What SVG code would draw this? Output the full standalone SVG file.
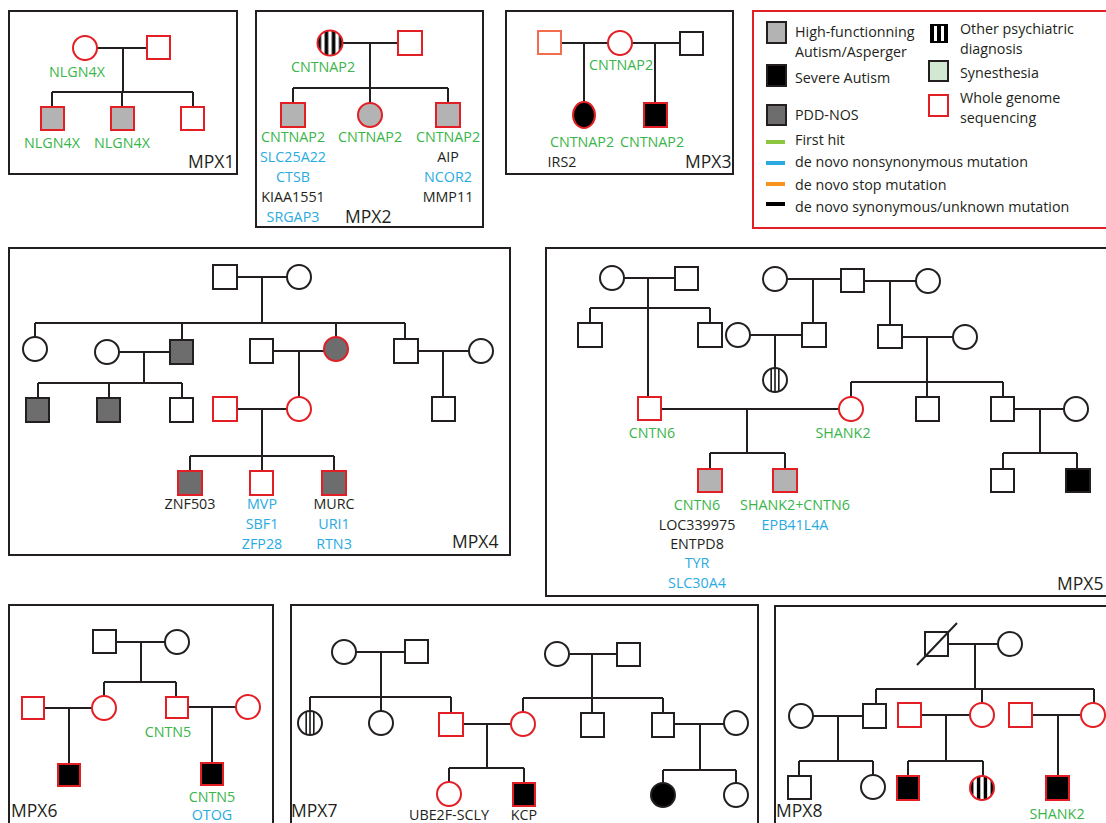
<svg xmlns="http://www.w3.org/2000/svg" width="1106" height="823" viewBox="0 0 1106 823">
<style>
text{font-family:"Open Sans","Liberation Sans",sans-serif;font-size:14.3px;text-anchor:middle}
.g{fill:#39b54a}.b{fill:#29abe2}.k{fill:#231f20}
.t{font-size:17.5px;text-anchor:start;fill:#231f20}
.lg{text-anchor:start;fill:#231f20}
.box{fill:none;stroke:#231f20;stroke-width:2}
.n{fill:#fff;stroke:#231f20;stroke-width:2}
.r{fill:#fff;stroke:#e31e24;stroke-width:2}
.hf{fill:#b3b3b3}.pdd{fill:#6d6d6d}.sev{fill:#000}
.thick{fill:url(#thick)}.thin{fill:url(#thin)}
.ln{fill:none;stroke:#231f20;stroke-width:2}
</style>
<defs>
<pattern id="thick" patternUnits="objectBoundingBox" patternContentUnits="objectBoundingBox" width="1" height="1">
<rect width="1" height="1" fill="#fff"/>
<rect x="0" width="0.143" height="1" fill="#000"/>
<rect x="0.286" width="0.143" height="1" fill="#000"/>
<rect x="0.571" width="0.143" height="1" fill="#000"/>
<rect x="0.857" width="0.143" height="1" fill="#000"/>
</pattern>
<pattern id="thin" patternUnits="objectBoundingBox" patternContentUnits="objectBoundingBox" width="1" height="1">
<rect width="1" height="1" fill="#fff"/>
<rect x="0.31" width="0.06" height="1" fill="#000"/>
<rect x="0.47" width="0.06" height="1" fill="#000"/>
<rect x="0.63" width="0.06" height="1" fill="#000"/>
</pattern>
</defs>

<g id="frames">
<rect class="box" x="9" y="11" width="228" height="163"/>
<rect class="box" x="256" y="11" width="227" height="216"/>
<rect class="box" x="506" y="11" width="227" height="163"/>
<rect x="753" y="11" width="360" height="217" fill="none" stroke="#e31e24" stroke-width="2"/>
<rect class="box" x="9" y="248" width="501" height="307"/>
<rect class="box" x="546" y="248" width="570" height="348"/>
<rect class="box" x="9" y="605" width="264" height="230"/>
<rect class="box" x="291" y="605" width="467" height="230"/>
<rect class="box" x="775" y="606" width="340" height="230"/>
<text class="t" x="188" y="168">MPX1</text>
<text class="t" x="345" y="223">MPX2</text>
<text class="t" x="685" y="168">MPX3</text>
<text class="t" x="452" y="548">MPX4</text>
<text class="t" x="1057" y="590">MPX5</text>
<text class="t" x="11" y="817">MPX6</text>
<text class="t" x="291" y="817">MPX7</text>
<text class="t" x="776" y="817">MPX8</text>
</g>

<g id="connectors">
<path class="ln" d="M97 48H147M123 48V92M52 92H193M52 92V107M122 92V107M193 92V107"/>
<path class="ln" d="M342 43H398M370 43V88M293 88H448M293 88V103M370 88V103M448 88V103"/>
<path class="ln" d="M561 43H608M632 43H680M584 43V102M655 43V103"/>
<path class="ln" d="M237 277H287M262 277V323M35 323H405M35 323V337M182 323V340M336 323V337M405 323V339M119 352H170M144 352V383M38 383H182M38 383V398M109 383V398M182 383V398M273 351H324M299 351V397M237 409H287M262 409V456M190 456H334M190 456V471M262 456V471M334 456V471M418 351H469M443 351V397"/>
<path class="ln" d="M624 278H675M648 278V397M590 308H710M590 308V323M710 308V323M787 279H841M813 279V323M750 335H802M775 335V368M864 281H916M890 281V325M902 337H953M927 337V382M851 382H1003M851 382V397M927 382V397M1003 382V397M661 409H839M747 409V453M710 453H785M710 453V469M785 453V469M1014 409H1064M1040 409V453M1003 453H1077M1003 453V469M1077 453V469"/>
<path class="ln" d="M116 642H165M141 642V682M104 682H176M104 682V696M176 682V697M44 708H92M69 708V764M188 707H236M212 707V763"/>
<path class="ln" d="M356 652H405M381 652V697M310 697H451M310 697V711M381 697V711M451 697V713M569 654H617M592 654V698M523 698H663M523 698V712M592 698V713M663 698V713M463 724H511M487 724V768M449 768H524M449 768V782M524 768V783M674 724H724M700 724V770M663 770H736M663 770V783M736 770V783"/>
<path class="ln" d="M948 644H998M975 644V689M876 689H1094M876 689V704M982 689V703M1094 689V703M813 716H863M838 716V761M799 761H873M799 761V776M873 761V775M921 715H970M946 715V761M908 761H983M908 761V776M983 761V776M1032 715H1081M1058 715V776"/>
</g>

<g id="legend">
<rect x="767" y="22" width="19" height="21" fill="#b3b3b3" stroke="#231f20" stroke-width="2"/>
<rect x="767" y="65" width="19" height="21" fill="#000" stroke="#231f20" stroke-width="2"/>
<rect x="767" y="105" width="19" height="20" fill="#6d6d6d" stroke="#231f20" stroke-width="2"/>
<path d="M766 142H785" stroke="#8dc63f" stroke-width="4"/>
<path d="M766 163H785" stroke="#29abe2" stroke-width="4"/>
<path d="M766 184H785" stroke="#f7941d" stroke-width="4"/>
<path d="M766 204H785" stroke="#000" stroke-width="4"/>
<text class="lg" x="795" y="37">High-functionning</text>
<text class="lg" x="795" y="57">Autism/Asperger</text>
<text class="lg" x="795" y="83">Severe Autism</text>
<text class="lg" x="795" y="120">PDD-NOS</text>
<text class="lg" x="795" y="145">First hit</text>
<text class="lg" x="795" y="167">de novo nonsynonymous mutation</text>
<text class="lg" x="795" y="190">de novo stop mutation</text>
<text class="lg" x="795" y="212">de novo synonymous/unknown mutation</text>
<rect x="930" y="24" width="18" height="19" fill="#000"/>
<rect x="934" y="26" width="3" height="15" fill="#fff"/>
<rect x="941" y="26" width="3" height="15" fill="#fff"/>
<rect x="929" y="61" width="19" height="20" fill="#d3e8d3" stroke="#231f20" stroke-width="2"/>
<rect x="929" y="95" width="19" height="21" fill="#fff" stroke="#e31e24" stroke-width="2"/>
<text class="lg" x="960" y="34">Other psychiatric</text>
<text class="lg" x="960" y="54">diagnosis</text>
<text class="lg" x="960" y="78">Synesthesia</text>
<text class="lg" x="960" y="103">Whole genome</text>
<text class="lg" x="960" y="123">sequencing</text>
</g>

<g id="mpx1-mother"><circle class="r" cx="85" cy="48" r="12"/><text class="g" x="77" y="77">NLGN4X</text></g>
<g id="mpx1-father"><rect class="r" x="147" y="36" width="23" height="23"/></g>
<g id="mpx1-child1"><rect class="r hf" x="41" y="107" width="23" height="23"/><text class="g" x="52" y="148">NLGN4X</text></g>
<g id="mpx1-child2"><rect class="r hf" x="111" y="107" width="23" height="23"/><text class="g" x="122" y="148">NLGN4X</text></g>
<g id="mpx1-child3"><rect class="r" x="181" y="107" width="23" height="23"/></g>

<g id="mpx2-mother"><circle class="r thick" cx="330" cy="43" r="12.5"/><text class="g" x="323" y="72">CNTNAP2</text></g>
<g id="mpx2-father"><rect class="r" x="398" y="31" width="24" height="24"/></g>
<g id="mpx2-child1"><rect class="r hf" x="281" y="103" width="24" height="24"/>
<text class="g" x="293" y="142">CNTNAP2</text><text class="b" x="293" y="162">SLC25A22</text><text class="b" x="293" y="182">CTSB</text><text class="k" x="293" y="202">KIAA1551</text><text class="b" x="293" y="222">SRGAP3</text></g>
<g id="mpx2-child2"><circle class="r hf" cx="370" cy="115" r="12"/><text class="g" x="370" y="142">CNTNAP2</text></g>
<g id="mpx2-child3"><rect class="r hf" x="436" y="103" width="24" height="24"/>
<text class="g" x="448" y="142">CNTNAP2</text><text class="k" x="448" y="162">AIP</text><text class="b" x="448" y="182">NCOR2</text><text class="k" x="448" y="202">MMP11</text></g>

<g id="mpx3-father"><rect x="538" y="31" width="23" height="23" fill="#fff" stroke="#f26c4f" stroke-width="2"/></g>
<g id="mpx3-mother"><circle class="r" cx="620" cy="43" r="12"/><text class="g" x="621" y="70">CNTNAP2</text></g>
<g id="mpx3-partner"><rect class="n" x="680" y="32" width="23" height="23"/></g>
<g id="mpx3-child1"><ellipse class="r sev" cx="584" cy="115" rx="11" ry="13"/><text class="g" x="582" y="147">CNTNAP2</text><text class="k" x="562" y="167">IRS2</text></g>
<g id="mpx3-child2"><rect class="r sev" x="644" y="103" width="23" height="24"/><text class="g" x="652" y="147">CNTNAP2</text></g>

<g id="mpx4-gf"><rect class="n" x="213" y="265" width="24" height="24"/></g>
<g id="mpx4-gm"><circle class="n" cx="299" cy="277" r="12"/></g>
<g id="mpx4-a1"><circle class="n" cx="35" cy="349" r="12"/></g>
<g id="mpx4-a2sp"><circle class="n" cx="107" cy="352" r="12"/></g>
<g id="mpx4-a2"><rect class="n pdd" x="170" y="340" width="23" height="24"/></g>
<g id="mpx4-a2c1"><rect class="n pdd" x="26" y="398" width="23" height="24"/></g>
<g id="mpx4-a2c2"><rect class="n pdd" x="97" y="398" width="23" height="24"/></g>
<g id="mpx4-a2c3"><rect class="n" x="170" y="398" width="23" height="24"/></g>
<g id="mpx4-a3sp"><rect class="n" x="250" y="339" width="23" height="24"/></g>
<g id="mpx4-a3"><circle class="r pdd" cx="336" cy="349" r="12"/></g>
<g id="mpx4-b1"><rect class="r" x="213" y="397" width="24" height="24"/></g>
<g id="mpx4-b2"><circle class="r" cx="299" cy="409" r="12"/></g>
<g id="mpx4-c1"><rect class="r pdd" x="178" y="471" width="24" height="24"/><text class="k" x="190" y="509">ZNF503</text></g>
<g id="mpx4-c2"><rect class="r" x="250" y="471" width="23" height="24"/><text class="b" x="262" y="509">MVP</text><text class="b" x="262" y="529">SBF1</text><text class="b" x="262" y="549">ZFP28</text></g>
<g id="mpx4-c3"><rect class="r pdd" x="322" y="471" width="24" height="24"/><text class="k" x="334" y="509">MURC</text><text class="b" x="334" y="529">URI1</text><text class="b" x="334" y="549">RTN3</text></g>
<g id="mpx4-a4"><rect class="n" x="394" y="339" width="24" height="24"/></g>
<g id="mpx4-a4sp"><circle class="n" cx="481" cy="351" r="12"/></g>
<g id="mpx4-a4c"><rect class="n" x="432" y="397" width="23" height="24"/></g>

<g id="mpx5-p1m"><circle class="n" cx="612" cy="278" r="12"/></g>
<g id="mpx5-p1f"><rect class="n" x="675" y="267" width="23" height="23"/></g>
<g id="mpx5-s1"><rect class="n" x="578" y="323" width="24" height="24"/></g>
<g id="mpx5-s2"><rect class="n" x="698" y="323" width="24" height="24"/></g>
<g id="mpx5-father"><rect class="r" x="638" y="397" width="23" height="23"/><text class="g" x="652" y="438">CNTN6</text></g>
<g id="mpx5-q1m"><circle class="n" cx="775" cy="279" r="12"/></g>
<g id="mpx5-q1f"><rect class="n" x="841" y="269" width="23" height="23"/></g>
<g id="mpx5-q1w"><circle class="n" cx="928" cy="281" r="12"/></g>
<g id="mpx5-q1son"><rect class="n" x="802" y="323" width="24" height="24"/></g>
<g id="mpx5-q1sonsp"><circle class="n" cx="738" cy="335" r="12"/></g>
<g id="mpx5-striped"><circle class="n thin" cx="775" cy="380" r="12"/></g>
<g id="mpx5-q2"><rect class="n" x="878" y="325" width="24" height="23"/></g>
<g id="mpx5-q2sp"><circle class="n" cx="965" cy="337" r="12"/></g>
<g id="mpx5-mother"><circle class="r" cx="851" cy="409" r="12"/><text class="g" x="843" y="438">SHANK2</text></g>
<g id="mpx5-sib2"><rect class="n" x="916" y="397" width="23" height="24"/></g>
<g id="mpx5-sib3"><rect class="n" x="991" y="397" width="23" height="24"/></g>
<g id="mpx5-sib3sp"><circle class="n" cx="1076" cy="409" r="12"/></g>
<g id="mpx5-gc1"><rect class="n" x="991" y="469" width="23" height="23"/></g>
<g id="mpx5-gc2"><rect class="n sev" x="1066" y="469" width="24" height="23"/></g>
<g id="mpx5-child1"><rect class="r hf" x="698" y="469" width="24" height="23"/>
<text class="g" x="697" y="510">CNTN6</text><text class="k" x="697" y="530">LOC339975</text><text class="k" x="697" y="549">ENTPD8</text><text class="b" x="697" y="568">TYR</text><text class="b" x="697" y="588">SLC30A4</text></g>
<g id="mpx5-child2"><rect class="r hf" x="773" y="469" width="24" height="23"/>
<text class="g" x="795" y="510">SHANK2+CNTN6</text><text class="b" x="795" y="530">EPB41L4A</text></g>

<g id="mpx6-gf"><rect class="n" x="93" y="630" width="23" height="23"/></g>
<g id="mpx6-gm"><circle class="n" cx="177" cy="642" r="12"/></g>
<g id="mpx6-d"><circle class="r" cx="104" cy="708" r="12"/></g>
<g id="mpx6-dsp"><rect class="r" x="22" y="697" width="22" height="22"/></g>
<g id="mpx6-s"><rect class="r" x="166" y="697" width="22" height="21"/><text class="g" x="168" y="737">CNTN5</text></g>
<g id="mpx6-ssp"><circle class="r" cx="248" cy="707" r="12"/></g>
<g id="mpx6-c1"><rect class="r sev" x="58" y="764" width="22" height="22"/></g>
<g id="mpx6-c2"><rect class="r sev" x="201" y="763" width="22" height="22"/><text class="g" x="212" y="802">CNTN5</text><text class="b" x="212" y="820">OTOG</text></g>

<g id="mpx7-am"><circle class="n" cx="344" cy="652" r="12"/></g>
<g id="mpx7-af"><rect class="n" x="405" y="640" width="23" height="23"/></g>
<g id="mpx7-ac1"><circle class="n thin" cx="310" cy="723" r="12"/></g>
<g id="mpx7-ac2"><circle class="n" cx="381" cy="723" r="12"/></g>
<g id="mpx7-father"><rect class="r" x="439" y="713" width="24" height="23"/></g>
<g id="mpx7-bm"><circle class="n" cx="557" cy="654" r="12"/></g>
<g id="mpx7-bf"><rect class="n" x="617" y="643" width="23" height="23"/></g>
<g id="mpx7-mother"><circle class="r" cx="523" cy="724" r="12"/></g>
<g id="mpx7-bc2"><rect class="n" x="581" y="713" width="23" height="24"/></g>
<g id="mpx7-bc3"><rect class="n" x="652" y="713" width="22" height="24"/></g>
<g id="mpx7-bc3sp"><circle class="n" cx="736" cy="723" r="12"/></g>
<g id="mpx7-k1"><circle class="r" cx="449" cy="794" r="12"/><text class="k" x="449" y="820">UBE2F-SCLY</text></g>
<g id="mpx7-k2"><rect class="r sev" x="513" y="783" width="22" height="23"/><text class="k" x="524" y="820">KCP</text></g>
<g id="mpx7-e1"><circle class="n sev" cx="663" cy="795" r="12"/></g>
<g id="mpx7-e2"><circle class="n" cx="736" cy="795" r="12"/></g>

<g id="mpx8-gf"><rect class="n" x="925" y="632" width="23" height="24"/><path class="ln" d="M917 665L957 623"/></g>
<g id="mpx8-gm"><circle class="n" cx="1010" cy="644" r="12"/></g>
<g id="mpx8-a"><rect class="n" x="863" y="704" width="23" height="24"/></g>
<g id="mpx8-asp"><circle class="n" cx="801" cy="716" r="12"/></g>
<g id="mpx8-ac1"><rect class="n" x="788" y="776" width="23" height="23"/></g>
<g id="mpx8-ac2"><circle class="n" cx="873" cy="787" r="12"/></g>
<g id="mpx8-bsp"><rect class="r" x="898" y="703" width="23" height="24"/></g>
<g id="mpx8-b"><circle class="r" cx="982" cy="715" r="12"/></g>
<g id="mpx8-bc1"><rect class="r sev" x="897" y="776" width="22" height="24"/></g>
<g id="mpx8-bc2"><circle class="r thick" cx="982" cy="788" r="12"/></g>
<g id="mpx8-csp"><rect class="r" x="1009" y="703" width="23" height="24"/></g>
<g id="mpx8-c"><circle class="r" cx="1093" cy="715" r="12"/></g>
<g id="mpx8-cc1"><rect class="r sev" x="1046" y="776" width="23" height="24"/><text class="g" x="1057" y="819">SHANK2</text></g>
</svg>
